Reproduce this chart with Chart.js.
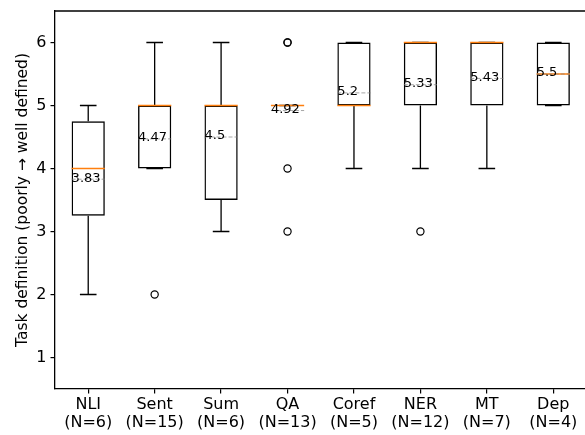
<!DOCTYPE html>
<html>
<head>
<meta charset="utf-8">
<script src="https://cdn.jsdelivr.net/npm/chart.js@4"></script>
<style>
  html, body { margin: 0; padding: 0; background: #fff; overflow: hidden; }
</style>
</head>
<body>
<canvas id="graficoTarefas" width="600" height="435"></canvas>
<script>
// Resumo por tarefa (escala de 1 a 6)
const categorias = ['NLI', 'Sent', 'Sum', 'QA', 'Coref', 'NER', 'MT', 'Dep'];
const contagens = [6, 15, 6, 13, 5, 12, 7, 4];
const bigodeInferior = [2, 4, 3, 5, 4, 4, 4, 5];
const quartilInferior = [3.25, 4, 3.5, 5, 5, 5, 5, 5];
const medianas = [4, 5, 5, 5, 5, 6, 6, 5.5];
const quartilSuperior = [4.75, 5, 5, 5, 6, 6, 6, 6];
const bigodeSuperior = [5, 6, 6, 5, 6, 6, 6, 6];
const medias = [3.83, 4.47, 4.5, 4.92, 5.2, 5.33, 5.43, 5.5];
const outliers = [[], [2], [], [6, 6, 4, 3], [], [3], [], []];
const ticksY = [1, 2, 3, 4, 5, 6];

document.addEventListener('DOMContentLoaded', function () {
    const canvas = document.getElementById('graficoTarefas');
    const ctx = canvas.getContext('2d');

    Chart.defaults.font.family = '"DejaVu Sans", sans-serif';
    Chart.defaults.color = '#000';

    const labels = categorias.map((c, i) => [c, '(N=' + contagens[i] + ')']);

    // caixas = barras flutuantes [q1, q3]
    const caixas = categorias.map((_, i) => [quartilInferior[i], quartilSuperior[i]]);

    // um dataset de pontos por "camada" de outliers
    const maxOut = Math.max(...outliers.map(o => o.length));
    const pontos = [];
    for (let k = 0; k < maxOut; k++) {
        pontos.push({
            type: 'line',
            data: outliers.map(o => (k < o.length ? o[k] : null)),
            showLine: false,
            pointStyle: 'circle',
            pointRadius: 3.6,
            pointBorderWidth: 1.2,
            pointBorderColor: '#000',
            pointBackgroundColor: 'rgba(0,0,0,0)'
        });
    }

    // bigodes, medianas, médias e borda de cima
    const boxplotExtras = {
        id: 'boxplotExtras',
        afterDatasetsDraw(chart) {
            const c = chart.ctx;
            const xs = chart.scales.x;
            const ys = chart.scales.y;
            const barras = chart.getDatasetMeta(0).data;
            c.save();
            categorias.forEach((_, i) => {
                const x = xs.getPixelForValue(i);
                const meia = barras[i].width / 2;
                const yq1 = ys.getPixelForValue(quartilInferior[i]);
                const yq3 = ys.getPixelForValue(quartilSuperior[i]);
                const ylo = ys.getPixelForValue(bigodeInferior[i]);
                const yhi = ys.getPixelForValue(bigodeSuperior[i]);

                c.strokeStyle = '#000';
                c.lineWidth = 1.3;
                c.setLineDash([]);
                c.beginPath();
                c.moveTo(x, yq1); c.lineTo(x, ylo);
                c.moveTo(x, yq3); c.lineTo(x, yhi);
                c.moveTo(x - meia / 2, ylo); c.lineTo(x + meia / 2, ylo);
                c.moveTo(x - meia / 2, yhi); c.lineTo(x + meia / 2, yhi);
                c.stroke();

                const ym = ys.getPixelForValue(medianas[i]);
                c.strokeStyle = '#ff7f0e';
                c.lineWidth = 1.5;
                c.beginPath();
                c.moveTo(x - meia, ym); c.lineTo(x + meia, ym);
                c.stroke();

                const ymed = ys.getPixelForValue(medias[i]);
                c.strokeStyle = 'rgba(128,128,128,0.7)';
                c.lineWidth = 1;
                c.setLineDash([4, 2]);
                c.beginPath();
                c.moveTo(x - meia, ymed); c.lineTo(x + meia, ymed);
                c.stroke();

                c.setLineDash([]);
                c.fillStyle = '#000';
                c.font = '13px "DejaVu Sans"';
                c.textAlign = 'left';
                c.textBaseline = 'middle';
                c.fillText(String(medias[i]), x - meia, ymed - 1);
            });

            // a borda da direita cai fora da janela; só a de cima aparece
            const a = chart.chartArea;
            c.strokeStyle = '#000';
            c.lineWidth = 1.3;
            c.beginPath();
            c.moveTo(a.left, a.top); c.lineTo(chart.width, a.top);
            c.stroke();
            c.restore();
        }
    };

    new Chart(ctx, {
        type: 'bar',
        data: {
            labels: labels,
            datasets: [{
                data: caixas,
                backgroundColor: 'rgba(0,0,0,0)',
                borderColor: '#000',
                borderWidth: 1.4,
                borderSkipped: false,
                barPercentage: 0.5,
                categoryPercentage: 1
            }].concat(pontos)
        },
        options: {
            responsive: false,
            animation: false,
            // canvas mais largo que a janela
            layout: { padding: { left: 0, top: 11, right: 13.5, bottom: 0 } },
            plugins: {
                legend: { display: false },
                tooltip: { enabled: false }
            },
            scales: {
                x: {
                    offset: true,
                    grid: { display: true, offset: false, drawOnChartArea: false, drawTicks: true, tickLength: 4.5, color: '#000', lineWidth: 1.2 },
                    border: { display: true, color: '#000', width: 1.3 },
                    ticks: { font: { size: 16, lineHeight: 1.1 }, padding: 3, maxRotation: 0, autoSkip: false },
                    afterFit: function (axis) {
                        axis.height = 46;
                        axis.paddingLeft = 0;
                        axis.paddingRight = 0;
                    }
                },
                y: {
                    min: 0.5,
                    max: 6.5,
                    grid: { display: true, drawOnChartArea: false, drawTicks: true, tickLength: 4.5, color: '#000', lineWidth: 1.2 },
                    border: { display: true, color: '#000', width: 1.3 },
                    ticks: { font: { size: 16 }, padding: 4 },
                    afterBuildTicks: function (axis) { axis.ticks = ticksY.map(v => ({ value: v })); },
                    afterFit: function (axis) {
                        axis.width = 55;
                        axis.paddingTop = 0;
                        axis.paddingBottom = 0;
                    },
                    title: {
                        display: true,
                        text: 'Task definition (poorly → well defined)',
                        font: { size: 15.5 },
                        padding: { top: 14, bottom: 0 }
                    }
                }
            }
        },
        plugins: [boxplotExtras]
    });
});
</script>
</body>
</html>
